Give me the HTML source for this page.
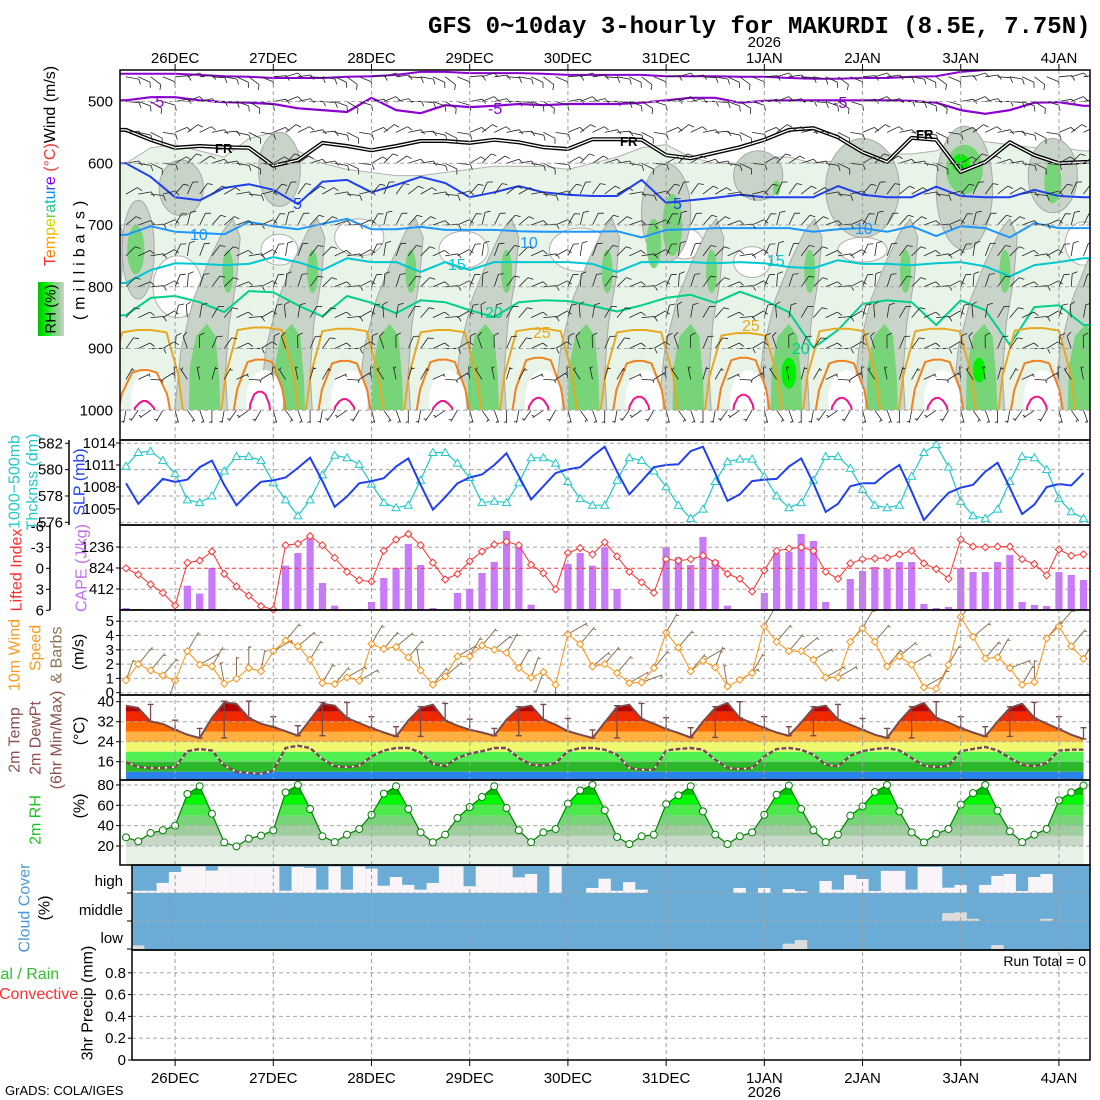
<!DOCTYPE html>
<html><head><meta charset="utf-8">
<style>
body{margin:0;background:#fff;}
svg{display:block;font-family:"Liberation Sans",sans-serif;}
.tk{font-size:15px;fill:#000;}
.lab{font-size:16px;}
</style></head>
<body>
<svg id="c" width="1100" height="1100" viewBox="0 0 1100 1100" xmlns="http://www.w3.org/2000/svg">
<defs>
<clipPath id="clipRH"><rect x="120" y="70" width="970" height="340"/></clipPath>
<clipPath id="clipTop"><rect x="120" y="70" width="970" height="370"/></clipPath>
<clipPath id="clipWind"><rect x="120" y="610" width="970" height="85"/></clipPath>
<linearGradient id="rhKey" x1="0" x2="1" y1="0" y2="0">
<stop offset="0" stop-color="#00c000"/><stop offset="0.3" stop-color="#00f000"/><stop offset="0.55" stop-color="#60e060"/><stop offset="0.8" stop-color="#a0cca0"/><stop offset="1" stop-color="#c8d8c8"/>
</linearGradient>
</defs>
<rect x="0" y="0" width="1100" height="1100" fill="#fff"/>

<text x="428" y="33" style="font-family:'Liberation Mono',monospace;font-size:24px;font-weight:bold">GFS 0~10day 3-hourly for MAKURDI (8.5E, 7.75N)</text>

<g id="marks"></g>
<g id="axes"></g>

<g class="lab" dominant-baseline="central" text-anchor="middle">
<text transform="translate(50,166) rotate(-90)"><tspan fill="#ff3030">T</tspan><tspan fill="#ff7a00">e</tspan><tspan fill="#ffa000">m</tspan><tspan fill="#e8c000">p</tspan><tspan fill="#c8d800">e</tspan><tspan fill="#70d040">r</tspan><tspan fill="#20c880">a</tspan><tspan fill="#00c0c0">t</tspan><tspan fill="#0090ff">u</tspan><tspan fill="#3050ff">r</tspan><tspan fill="#8000ff">e</tspan><tspan fill="#ff3030"> (°C)</tspan><tspan fill="#000">Wind (m/s)</tspan></text>
<text transform="translate(80,258) rotate(-90)" style="letter-spacing:5px" fill="#000">(millibars)</text>
<rect x="38" y="282" width="26" height="54" fill="url(#rhKey)"/>
<text transform="translate(51,309) rotate(-90)" fill="#000" style="font-size:15px">RH (%)</text>
<text transform="translate(15,482) rotate(-90)" fill="#20c8c8">1000−500mb</text>
<text transform="translate(33,482) rotate(-90)" fill="#20c8c8">Thcknss (dm)</text>
<text transform="translate(80,482) rotate(-90)" fill="#2040f0">SLP (mb)</text>
<text transform="translate(17,570) rotate(-90)" fill="#ff3030">Lifted Index</text>
<text transform="translate(82,568) rotate(-90)" fill="#c070f0">CAPE (J/kg)</text>
<text transform="translate(15,655) rotate(-90)" fill="#ff9a20">10m Wind</text>
<text transform="translate(36,648) rotate(-90)" fill="#ff9a20">Speed</text>
<text transform="translate(57,655) rotate(-90)" fill="#8b7355">&amp; Barbs</text>
<text transform="translate(79,652) rotate(-90)" fill="#000">(m/s)</text>
<text transform="translate(15,740) rotate(-90)" fill="#8c5050">2m Temp</text>
<text transform="translate(36,738) rotate(-90)" fill="#8c5050">2m DewPt</text>
<text transform="translate(57,740) rotate(-90)" fill="#8c5050">(6hr Min/Max)</text>
<text transform="translate(80,731) rotate(-90)" fill="#000">(°C)</text>
<text transform="translate(36,820) rotate(-90)" fill="#20c020">2m RH</text>
<text transform="translate(80,806) rotate(-90)" fill="#000">(%)</text>
<text transform="translate(25,908) rotate(-90)" fill="#4a9ad8">Cloud Cover</text>
<text transform="translate(45,908) rotate(-90)" fill="#000">(%)</text>
<text transform="translate(88,1003) rotate(-90)" fill="#000">3hr Precip (mm)</text>
</g>
<text x="-4" y="979" fill="#30c030" class="lab">tal / Rain</text>
<text x="-1" y="999" fill="#ff3030" class="lab">Convective</text>
<text x="123" y="886" text-anchor="end" class="tk">high</text>
<text x="123" y="915" text-anchor="end" class="tk">middle</text>
<text x="123" y="943" text-anchor="end" class="tk">low</text>
<text x="1086" y="966" text-anchor="end" style="font-size:14px">Run Total = 0</text>
<text x="5" y="1095" style="font-size:13px">GrADS: COLA/IGES</text>

<g style="font-size:16px">
<text x="150" y="107" fill="#8a00d0">-5</text>
<text x="488" y="114" fill="#8a00d0">-5</text>
<text x="833" y="108" fill="#8a00d0">-5</text>
<text x="215" y="153" fill="#000" style="font-size:13px;font-weight:bold">FR</text>
<text x="620" y="146" fill="#000" style="font-size:13px;font-weight:bold">FR</text>
<text x="916" y="139" fill="#000" style="font-size:13px;font-weight:bold">FR</text>
<text x="293" y="209" fill="#2040f0">5</text>
<text x="673" y="209" fill="#2040f0">5</text>
<text x="190" y="240" fill="#1e96ff">10</text>
<text x="520" y="248" fill="#1e96ff">10</text>
<text x="855" y="234" fill="#1e96ff">10</text>
<text x="448" y="270" fill="#00c8d0">15</text>
<text x="767" y="266" fill="#00c8d0">15</text>
<text x="485" y="318" fill="#00d08c">20</text>
<text x="792" y="354" fill="#00d08c">20</text>
<text x="533" y="338" fill="#e8a820">25</text>
<text x="742" y="331" fill="#e8a820">25</text>
</g>
</svg>

<script>
const NS='http://www.w3.org/2000/svg';
const svg=document.getElementById('c');
const marks=document.getElementById('marks');
const axes=document.getElementById('axes');

const dayLabels=['26DEC','27DEC','28DEC','29DEC','30DEC','31DEC','1JAN','2JAN','3JAN','4JAN'];
const thick=[580.25,581.3,581.4,580.7,579.7,577.7,577.5,578.0,579.9,581.0,581.0,580.7,579.0,577.7,576.5,577.7,579.6,581.1,580.9,580.4,578.9,577.5,577.1,577.3,579.2,581.3,581.3,580.5,579.4,577.5,577.6,577.5,579.0,580.9,580.9,580.5,579.1,577.8,577.3,577.3,579.2,580.9,580.7,579.9,578.7,577.3,576.3,577.0,579.1,580.6,580.8,580.8,579.5,578.0,577.1,577.5,579.2,581.0,581.0,580.1,578.5,577.3,577.1,577.3,579.5,581.3,581.9,580.2,577.6,576.5,576.3,577.0,579.1,581.0,580.9,580.0,577.8,576.8,576.3];
const slp=[1008.5,1005.7,1007.4,1009.1,1008.7,1009.0,1010.7,1011.6,1008.3,1005.5,1007.2,1008.7,1008.9,1009.3,1010.6,1012.0,1008.8,1005.3,1006.7,1008.5,1008.8,1009.2,1010.8,1011.9,1008.3,1004.9,1006.6,1008.5,1009.3,1009.7,1011.0,1012.6,1009.5,1006.3,1008.1,1009.9,1010.4,1010.7,1012.2,1013.5,1010.1,1007.0,1008.8,1010.7,1011.0,1011.1,1012.9,1013.5,1009.9,1006.1,1007.0,1008.8,1009.0,1009.1,1010.8,1011.9,1008.5,1004.6,1005.7,1008.1,1008.5,1008.5,1009.9,1011.0,1007.4,1003.5,1005.4,1007.2,1007.9,1008.3,1010.1,1011.3,1007.9,1004.3,1005.6,1008.0,1008.4,1008.2,1009.9];
const liftedIndex=[0,0.9,2.3,3.5,5.3,-0.8,-1.1,-2.4,0.8,2.6,3.9,5.4,5.9,-3.3,-3.5,-4.6,-3.3,-1.5,0.5,1.7,1.9,-2.5,-4.1,-4.9,-3.3,-0.8,1.6,0.8,-1.0,-2.4,-3.4,-3.8,-3.3,-0.5,0.7,3.0,-2.2,-2.9,-2.0,-3.7,-1.7,0.5,2.0,3.5,-1.3,-1.1,-1.3,-1.8,-0.8,0.8,1.5,3.3,0.3,-2.5,-2.8,-3.0,-2.5,0.5,1.5,-0.7,-1.3,-1.4,-1.5,-2.0,-2.5,-0.7,0.1,1.5,-4.1,-3.1,-3.0,-3.1,-3.1,-1.3,-0.6,1.0,-2.7,-1.8,-2.0];
const cape=[39,20,0,0,0,477,321,824,20,0,0,0,0,870,1118,1400,530,85,0,20,157,628,824,1295,883,39,0,334,412,726,942,1550,1243,104,0,0,902,1118,870,1230,412,20,0,20,1230,1034,883,1432,981,85,0,0,334,1118,1138,1491,1354,157,0,608,765,844,810,942,942,118,39,59,824,746,746,942,1079,157,98,78,746,687,589];
const wind10Speed=[0.87,2.0,1.56,1.2,0.84,2.9,1.96,1.84,0.63,0.98,1.73,1.5,2.9,3.65,3.25,2.3,0.68,0.6,1.07,0.84,3.4,3.07,3.2,2.47,1.56,0.56,1.14,2.54,2.54,3.3,3.0,2.8,1.73,1.07,1.45,0.56,4.1,3.4,1.84,2.0,1.38,0.68,0.72,1.73,4.2,3.16,1.5,2.23,1.77,0.44,0.9,1.38,4.65,3.56,2.9,2.9,2.3,1.07,1.07,3.56,4.5,3.56,1.84,2.54,1.96,0.37,0.28,1.96,5.3,3.9,2.4,2.47,1.73,0.56,0.75,3.8,4.65,3.25,2.37];
const wind10Dir=[20,40,40,40,200,30,60,30,350,0,0,10,60,40,50,30,30,40,60,60,30,40,50,40,350,40,50,60,30,40,50,30,30,20,200,180,60,40,50,40,40,60,70,40,30,40,40,60,20,350,60,30,30,40,40,50,60,60,60,40,30,40,40,50,60,60,30,30,40,50,40,30,70,30,360,40,40,40,30];
const temp2m=[38.4,37.5,32.1,31.1,28.8,26.8,25.5,33.5,39.7,39.1,33.5,31.2,29.9,28.2,26.4,32.8,39.2,38.4,33.5,31.5,29.5,27.7,26.1,32.5,37.5,38.8,32.5,30.4,28.8,27.7,26.4,32.8,37.5,38.4,32.8,30.8,28.2,26.8,25.5,31.7,37.9,38.8,33.1,31.2,29.1,27.5,25.7,32.1,37.5,39.5,33.5,31.5,29.5,27.7,26.4,31.7,37.5,38.4,32.8,30.8,28.8,26.8,25.5,32.1,37.5,39.5,33.5,31.7,29.5,27.7,26.1,32.1,37.5,39.2,33.5,31.2,29.1,26.8,25.1];
const dew2m=[15.8,13.9,13.5,13.5,13.9,20.2,21.1,20.5,14.4,12.0,11.5,11.2,12.5,21.5,22.4,21.5,17.1,14.2,13.8,14.4,18.1,20.5,21.5,21.5,19.7,15.2,14.2,17.5,19.2,20.2,21.5,21.5,17.5,14.8,14.4,15.5,20.2,21.5,21.5,20.8,18.8,13.5,12.8,12.8,20.5,21.1,21.5,20.8,16.8,13.5,13.1,13.5,18.1,21.1,21.5,20.8,18.8,14.8,14.2,18.4,20.2,21.1,21.5,20.5,17.5,14.4,13.9,14.4,20.2,21.1,21.9,20.5,17.5,14.8,14.2,15.5,20.5,20.8,20.8];
const rh2m=[28.5,24.5,32.7,35.4,39.9,71.1,78.7,51.7,23.5,19.6,27.2,30.2,35.4,72.7,80,56.3,29.5,23.8,31.1,36.7,50.7,71.4,78.7,56.3,33.4,23.5,31.1,47.5,58.3,68.1,78.7,57.3,35.4,23.8,33.4,36.7,61.6,74.7,80,55,28.8,21.9,29.5,31.1,61.2,69.8,78.7,54,31.1,21.9,29.5,33.4,50.7,70.4,79.4,56.3,35.4,23.8,31.1,49.8,58.9,73,80,54,33.4,23.5,32,36.7,60.6,72,80,54.7,34.4,23.8,31.1,36.7,64.9,72.7,79.4];
const precip3h=[0,0,0,0,0,0,0,0,0,0,0,0,0,0,0,0,0,0,0,0,0,0,0,0,0,0,0,0,0,0,0,0,0,0,0,0,0,0,0,0,0,0,0,0,0,0,0,0,0,0,0,0,0,0,0,0,0,0,0,0,0,0,0,0,0,0,0,0,0,0,0,0,0,0,0,0,0,0,0];
const cloudHigh=[92,92,64,25,5,5,20,5,5,5,5,5,92,7,10,88,5,88,5,13,74,43,71,88,64,5,5,76,5,5,5,44,32,100,5,100,100,82,49,92,61,88,100,100,100,100,100,100,100,82,100,82,100,86,93,100,57,88,36,50,93,21,21,88,7,7,81,71,100,71,39,32,93,43,32,100,100,100];
const cloudMid=[100,100,100,100,100,100,100,100,100,100,100,100,100,100,100,100,100,100,100,100,100,100,100,100,100,100,100,100,100,100,100,100,100,100,100,100,100,100,100,100,100,100,100,100,100,100,100,100,100,100,100,100,100,100,100,100,100,100,100,100,100,100,100,100,100,100,72,69,92,100,100,100,100,100,92,100,100,100];
const cloudLow=[87,100,100,100,100,100,100,100,100,100,100,100,100,100,100,100,100,100,100,100,100,100,100,100,100,100,100,100,100,100,100,100,100,100,100,100,100,100,100,100,100,100,100,100,100,100,100,100,100,100,100,100,100,81,68,100,100,100,100,100,100,100,100,100,100,100,100,100,100,100,86,100,100,100,100,100,100,100];
const isoM10=[455,455,455,457,459,460,462,462,462,460,459,457,452,452,454,454,454,455,457,457,457,457,459,459,459,460,460,462,463,463,462,462,460,459,452,449,447,446,446,446];
const isoM5=[498,493,493,498,501,502,504,511,514,517,494,514,519,506,509,507,504,506,504,504,504,502,498,494,494,502,499,498,498,498,498,498,499,502,514,520,514,502,501,507];
const isoFR=[546,562,575,572,574,575,604,595,567,572,579,572,564,564,567,562,566,574,577,561,561,562,587,592,583,574,562,546,543,558,582,598,559,562,614,598,566,587,600,598];
const iso5=[600,622,655,660,640,634,643,666,630,627,647,635,622,632,655,647,637,647,651,653,653,627,664,660,656,651,655,655,655,637,651,655,655,638,653,655,655,643,653,655];
const iso10=[716,702,711,713,715,695,702,707,698,690,707,707,703,708,708,708,710,711,711,711,710,720,708,707,705,705,705,705,711,707,705,711,702,718,702,705,720,697,705,705];
const iso15=[794,773,762,763,765,763,752,760,773,754,760,760,776,760,773,760,760,760,760,763,776,760,760,760,762,760,762,768,770,757,763,763,765,762,760,767,783,765,760,754];
const iso20=[846,818,815,825,841,807,809,830,848,815,826,843,822,825,838,849,825,822,823,831,840,830,818,813,826,808,822,841,899,870,828,822,825,862,822,838,894,833,830,862];
const rhMoistTop=[600,575,570,580,590,560,550,580,600,610,615,620,620,615,610,605,605,605,610,600,590,575,570,590,600,600,590,590,600,595,590,585,585,580,565,565,570,575,575,580];
const humpCentre=[1.5,10.9,17.8,25.8,33.6,41.8,50.3,58.3,66.1,74.2,82.5];
const hump25Top=[870,866,868,870,868,870,875,868,868,867,868];
const hump30Top=[935,918,920,918,915,920,915,920,918,920,918];
const hump35Top=[985,970,982,985,980,978,975,980,980,978,980];
const blobT=[12.5,4.5,44,51.5,60,68.3,75.5,1,44.5,43,53,68.3,75.5,0.8,68.0,54,69.5];
const blobP=[610,640,680,620,640,640,620,740,700,730,640,610,630,740,600,940,935];
const blobW=[1.7,1.8,2,2,3,2.3,2,1.3,0.8,0.6,0.3,1.5,0.7,0.7,0.7,0.6,0.5];
const blobH=[60,45,80,40,80,100,60,80,50,40,12,40,35,40,15,25,20];
const blobL=[1,1,1,1,1,1,1,1,2,2,2,2,2,2,3,3,3];
const holeT=[4.2,12.5,19,27.5,37,45.5,51,60,78];
const holeP=[800,740,720,740,740,730,760,740,730];
const holeW=[2,1.5,2,2,2.5,1.5,1.5,2,1.5];
const holeH=[50,25,30,30,35,25,25,20,35];
const barbLevels=[460,500,550,600,650,700,750,800,850,900,950,1000];
const barbDir=[100,95,85,80,60,50,45,45,40,35,30,190];
const barbSpd=[7,6,5,5,6,6,6,5,5,5,4,3];
const barbAmp=[0.6,0.6,0.7,0.8,0.8,0.8,0.8,0.9,1,1.2,1.4,1.0];
const diurnalShift=[0,25,45,20,-25,-45,-30,-10];

const xi=i=>126+12.2756*i;
const yP=p=>101.5+(p-500)*0.6175;
const yTh=v=>443.3+(582-v)*13.17;
const ySlp=v=>443+(1014-v)*7.33;
const yLI=v=>568.3+v*7;
const yCape=v=>610-v*21/412;
const ySpd=v=>692.7-v*14.3;
const yT=v=>701.7+(40-v)*2.5;
const yRH=v=>866.3-v*1.017;
const yPr=v=>1060-v*109;

function mk(tag,attrs,parent){const e=document.createElementNS(NS,tag);for(const k in attrs)e.setAttribute(k,attrs[k]);(parent||marks).appendChild(e);return e;}
function pts(arr){return arr.map(p=>p[0].toFixed(1)+','+p[1].toFixed(1)).join(' ');}
function dashH(y,x0,x1,col,parent){const l=mk('line',{x1:x0,x2:x1,y1:y,y2:y,stroke:col||'#a8a8a8','stroke-width':1,'stroke-dasharray':'4,3'},parent);

return l;}
function tick(x,y,t,name,anchor){const e=mk('text',{x:x,y:y+5,'text-anchor':anchor||'end',class:'tk'},axes);e.textContent=t;

return e;}
function barb(x,y,dir,spd,len,feat,col,w,parent,name){
  const r=dir*Math.PI/180,ux=Math.sin(r),uy=-Math.cos(r);
  const ex=x+ux*len,ey=y+uy*len,px=-uy,py=ux;
  let d='M'+x.toFixed(1)+','+y.toFixed(1)+'L'+ex.toFixed(1)+','+ey.toFixed(1);
  let full=Math.floor(spd/5),half=(spd%5)>=2.5?1:0;if(full+half===0)half=1;
  let off=0;
  for(let f=0;f<full;f++){const bx=ex-ux*off,by=ey-uy*off;d+='M'+bx.toFixed(1)+','+by.toFixed(1)+'l'+((px+ux*0.5)*feat).toFixed(1)+','+((py+uy*0.5)*feat).toFixed(1);off+=3;}
  if(half){if(full===0)off=2;const bx=ex-ux*off,by=ey-uy*off;d+='M'+bx.toFixed(1)+','+by.toFixed(1)+'l'+((px+ux*0.5)*feat*0.55).toFixed(1)+','+((py+uy*0.5)*feat*0.55).toFixed(1);}
  const e=mk('path',{d:d,fill:'none',stroke:col,'stroke-width':w},parent);
  
  
  return e;
}

const gRH=mk('g',{'clip-path':'url(#clipRH)'});


{
  const top=[[120,yP(rhMoistTop[0])]];
  rhMoistTop.forEach((p,k)=>top.push([xi(2*k),yP(p)]));
  top.push([1090,yP(rhMoistTop[39])],[1090,410],[120,410]);
  const e=mk('polygon',{points:pts(top),fill:'#e8f4e8',stroke:'#b0b0b0','stroke-width':1},gRH);
  
  
}
holeT.forEach((t,j)=>{const e=mk('ellipse',{cx:xi(t),cy:yP(holeP[j]),rx:holeW[j]*12.28,ry:holeH[j]*0.6175,fill:'#fff',stroke:'#b0b0b0','stroke-width':1},gRH);

});
const plumeGray=[[-7.0,1010],[-6.4,900],[-5.4,820],[-4.2,760],[-3.0,710],[-2.2,690],[-1.6,720],[-1.9,790],[-2.5,860],[-2.8,940],[-2.6,1010]];
const plumeGreen=[[-5.8,1010],[-5.7,930],[-5.2,880],[-4.3,860],[-3.6,880],[-3.3,950],[-3.2,1010]];
humpCentre.forEach((c,h)=>{
  const g=mk('polygon',{points:pts(plumeGray.map(q=>[xi(c+q[0]),yP(q[1])])),fill:'#c8d4c8',stroke:'#a8a8a8','stroke-width':1},gRH);
  
  
  const gr=mk('polygon',{points:pts(plumeGreen.map(q=>[xi(c+q[0]),yP(q[1])])),fill:'#78d478'},gRH);
  
  
  const u=mk('ellipse',{cx:xi(c-2.6),cy:yP(775),rx:0.45*12.28,ry:35*0.6175,fill:'#78d478'},gRH);
  
  
});
const blobFill=['','#c8d4c8','#78d478','#00f000'];
blobT.forEach((t,j)=>{const e=mk('ellipse',{cx:xi(t),cy:yP(blobP[j]),rx:blobW[j]*12.28,ry:blobH[j]*0.6175,fill:blobFill[blobL[j]],stroke:blobL[j]===1?'#a8a8a8':'none','stroke-width':1},gRH);

});
humpCentre.forEach((c,h)=>{const e=mk('ellipse',{cx:xi(c+0.4),cy:yP(985),rx:1.5*12.28,ry:50*0.6175,fill:'#fff'},gRH);

});

function isoLine(arr,col,w,name){
  const p=[[120,yP(arr[0])]];arr.forEach((v,k)=>p.push([xi(2*k),yP(v)]));p.push([1090,yP(arr[arr.length-1])]);
  const e=mk('polyline',{points:pts(p),fill:'none',stroke:col,'stroke-width':w,'stroke-linejoin':'round'},gRH);
  
  return p;
}
isoLine(isoM10,'#8a00d0',2,'isotherm-minus10');
isoLine(isoM5,'#8a00d0',2.2,'isotherm-minus5');
const frPts=isoLine(isoFR,'#000',4,'isotherm-freezing');
{const e=mk('polyline',{points:pts(frPts),fill:'none',stroke:'#fff','stroke-width':1.3},gRH);

}
isoLine(iso5,'#2040f0',2,'isotherm-5');
isoLine(iso10,'#1e96ff',2,'isotherm-10');
isoLine(iso15,'#00c8d0',2,'isotherm-15');
isoLine(iso20,'#00d08c',2,'isotherm-20');
function humps(tops,bw,tw,col,name){
  humpCentre.forEach((c,h)=>{
    const t=tops[h];
    const p=[[c-bw,1010],[c-bw+0.3*(bw-tw),t+0.55*(1005-t)],[c-tw,t+4],[c-tw*0.3,t],[c+tw*0.3,t],[c+tw,t+4],[c+bw-0.3*(bw-tw),t+0.55*(1005-t)],[c+bw,1010]].map(q=>[xi(q[0]),yP(q[1])]);
    const e=mk('polyline',{points:pts(p),fill:'none',stroke:col,'stroke-width':2,'stroke-linejoin':'round'},gRH);
    
    
  });
}
humps(hump25Top,3.2,1.8,'#e8a820','isotherm-25');
humps(hump30Top,2.2,1.0,'#f08020','isotherm-30');
humps(hump35Top,0.9,0.45,'#f0148c','isotherm-35');

const gB=mk('g',{'clip-path':'url(#clipTop)'});


barbLevels.forEach((p,L)=>{
  for(let i=0;i<79;i++){
    const dir=barbDir[L]+diurnalShift[i%8]*barbAmp[L];
    barb(xi(i),yP(p),dir,barbSpd[L],13,5,'#222',0.8,gB,'wind-barb');
  }
});

[582,580,578,576].forEach(v=>dashH(yTh(v),120,1090));
{
  const th=mk('polyline',{points:pts(thick.map((v,i)=>[xi(i),yTh(v)])),fill:'none',stroke:'#20c8c8','stroke-width':1.2});
  
  
  thick.forEach((v,i)=>{const x=xi(i),y=yTh(v);const t=mk('polygon',{points:pts([[x,y-4],[x-4,y+3],[x+4,y+3]]),fill:'#fff',stroke:'#20c8c8','stroke-width':1});
  
  });
  const s=mk('polyline',{points:pts(slp.map((v,i)=>[xi(i),ySlp(v)])),fill:'none',stroke:'#2040f0','stroke-width':2});
  
  
}

[-3,3].forEach(v=>dashH(yLI(v),120,1090));
cape.forEach((v,i)=>{if(v<=0)return;const y=yCape(v);const b=mk('rect',{x:xi(i)-3.6,y:y,width:7.2,height:610-y,fill:'#c87af8'});

});
dashH(yLI(0),120,1090,'#ff3030');
{
  const l=mk('polyline',{points:pts(liftedIndex.map((v,i)=>[xi(i),yLI(v)])),fill:'none',stroke:'#ff3030','stroke-width':1});
  
  
  liftedIndex.forEach((v,i)=>{const x=xi(i),y=yLI(v);const d=mk('polygon',{points:pts([[x,y-3.5],[x+3.5,y],[x,y+3.5],[x-3.5,y]]),fill:'#fff',stroke:'#ff3030','stroke-width':1});
  
  });
}

[0,1,2,3,4,5].forEach(v=>dashH(ySpd(v),120,1090));
{
  const gW=mk('g',{'clip-path':'url(#clipWind)'});
  
  
  wind10Dir.forEach((d,i)=>barb(xi(i),ySpd(wind10Speed[i]),d,wind10Speed[i],22,5,'#8b7355',1,gW,'wind10-barb'));
  const l=mk('polyline',{points:pts(wind10Speed.map((v,i)=>[xi(i),ySpd(v)])),fill:'none',stroke:'#ff9010','stroke-width':1});
  
  
  wind10Speed.forEach((v,i)=>{const x=xi(i),y=ySpd(v);const d=mk('polygon',{points:pts([[x,y-3.5],[x+3.5,y],[x,y+3.5],[x-3.5,y]]),fill:'#fff',stroke:'#ff9010','stroke-width':1});
  
  });
}

{
  const poly=[[xi(0),780]].concat(temp2m.map((v,i)=>[xi(i),yT(v)])).concat([[xi(78),780]]);
  const cp=document.createElementNS(NS,'clipPath');cp.setAttribute('id','clipTemp');
  const cpp=document.createElementNS(NS,'polygon');cpp.setAttribute('points',pts(poly));cp.appendChild(cpp);
  svg.querySelector('defs').appendChild(cp);
  const g=mk('g',{'clip-path':'url(#clipTemp)'});
  
  
  const bands=[[0,12,'#2a82ea'],[12,16,'#28b828'],[16,20,'#50f050'],[20,24,'#f0f870'],[24,28,'#ffb040'],[28,32,'#ff6a00'],[32,36,'#f02800'],[36,50,'#b40000']];
  bands.forEach(b=>{const r=mk('rect',{x:120,y:yT(b[1]),width:970,height:yT(b[0])-yT(b[1]),fill:b[2]},g);
  
  });
  [40,32,24,16].forEach(v=>dashH(yT(v),120,1090));
  const l=mk('polyline',{points:pts(temp2m.map((v,i)=>[xi(i),yT(v)])),fill:'none',stroke:'#7a4a4a','stroke-width':2});
  
  
  for(let i=2;i<79;i+=2){
    const w=temp2m.slice(i-2,i+1);const mx=Math.max(...w)+0.5,mn=Math.min(...w);
    const x=xi(i);
    const e=mk('path',{d:`M${x},${yT(mx)}L${x},${yT(mn)}M${x-3},${yT(mx)}h6M${x-3},${yT(mn)}h6`,stroke:'#7a4a4a','stroke-width':1.3,fill:'none'});
    
    
  }
  const dp=dew2m.map((v,i)=>[xi(i),yT(v)]);
  const w1=mk('polyline',{points:pts(dp),fill:'none',stroke:'#fff','stroke-width':1.5});
  
  
  const d1=mk('polyline',{points:pts(dp),fill:'none',stroke:'#7a4a4a','stroke-width':2.4,'stroke-dasharray':'5,2'});
  
  
}

{
  const poly=[[xi(0),866]].concat(rh2m.map((v,i)=>[xi(i),yRH(v)])).concat([[xi(78),866]]);
  const cp=document.createElementNS(NS,'clipPath');cp.setAttribute('id','clipRH2');
  const cpp=document.createElementNS(NS,'polygon');cpp.setAttribute('points',pts(poly));cp.appendChild(cpp);
  svg.querySelector('defs').appendChild(cp);
  const g=mk('g',{'clip-path':'url(#clipRH2)'});
  
  
  const bands=[[0,20,'#e6f2e6'],[20,30,'#c8d8c8'],[30,40,'#a0cca0'],[40,50,'#78d478'],[50,60,'#4ce84c'],[60,70,'#00f800'],[70,80,'#00c000'],[80,100,'#00a000']];
  bands.forEach(b=>{const r=mk('rect',{x:120,y:yRH(b[1]),width:970,height:yRH(b[0])-yRH(b[1]),fill:b[2]},g);
  
  });
  [80,60,40,20].forEach(v=>dashH(yRH(v),120,1090));
  const l=mk('polyline',{points:pts(rh2m.map((v,i)=>[xi(i),yRH(v)])),fill:'none',stroke:'#008000','stroke-width':1.2});
  
  
  rh2m.forEach((v,i)=>{const c=mk('circle',{cx:xi(i),cy:yRH(v),r:3.5,fill:'#fff',stroke:'#008000','stroke-width':1});
  
  });
}

{
  const rows=[[cloudHigh,865,'#f8f4f8','cloud-high-bar'],[cloudMid,893,'#dcdcdc','cloud-mid-bar'],[cloudLow,921,'#dcdcdc','cloud-low-bar']];
  const bg=mk('rect',{x:132,y:865,width:958,height:85,fill:'#6aacd6'});
  
  
  rows.forEach(r=>{
    r[0].forEach((c,k)=>{if(c>=100)return;const h=(100-c)/100*28;const e=mk('rect',{x:132+12.2756*k,y:r[1]+28-h,width:12.35,height:h,fill:r[2]});
    
    });
  });
  dashH(893,132,1090);dashH(921,132,1090);
}

[0.2,0.4,0.6,0.8].forEach(v=>dashH(yPr(v),132,1090));
precip3h.forEach((v,i)=>{if(v<=0)return;const y=yPr(v);const b=mk('rect',{x:xi(i)-4,y:y,width:8,height:1060-y,fill:'#30c030'});

});

dayLabels.forEach((d,k)=>{
  const x=xi(4+8*k);
  const l=mk('line',{x1:x,x2:x,y1:70,y2:1060,stroke:'#a0a0a0','stroke-width':1,'stroke-dasharray':'4,3'},axes);
  
  
  const t1=mk('line',{x1:x,x2:x,y1:64,y2:70,stroke:'#000'},axes);
  
  
  const t2=mk('line',{x1:x,x2:x,y1:1060,y2:1066,stroke:'#000'},axes);
  
  
  const a=mk('text',{x:x,y:63,'text-anchor':'middle',class:'tk'},axes);a.textContent=d;
  
  
  const b=mk('text',{x:x,y:1083,'text-anchor':'middle',class:'tk'},axes);b.textContent=d;
  
  
});
{
  const x=xi(4+8*6);
  const a=mk('text',{x:x,y:47,'text-anchor':'middle',class:'tk'},axes);a.textContent='2026';
  
  
  const b=mk('text',{x:x,y:1097,'text-anchor':'middle',class:'tk'},axes);b.textContent='2026';
  
  
}
[500,600,700,800,900,1000].forEach(p=>{dashH(yP(p),120,1090,null,axes);tick(113,yP(p),String(p),'pressure-tick-label');});
[[70,440,120,'upper-air-frame'],[440,525,120,'thickness-frame'],[525,610,120,'cape-frame'],[610,695,120,'wind10-frame'],[695,780,120,'temp-frame'],[780,865,120,'rh2m-frame'],[865,950,132,'cloud-frame'],[950,1060,132,'precip-frame']].forEach(f=>{
  const r=mk('rect',{x:f[2],y:f[0],width:1090-f[2],height:f[1]-f[0],fill:'none',stroke:'#000','stroke-width':1.5},axes);
  
  
});
function vline(x,y0,y1,name){const l=mk('line',{x1:x,x2:x,y1:y0,y2:y1,stroke:'#000','stroke-width':1.5},axes);

}
function htick(x0,x1,y,name){const l=mk('line',{x1:x0,x2:x1,y1:y,y2:y,stroke:'#000','stroke-width':1},axes);

}
vline(69,440,525,'thickness-axis');
[582,580,578,576].forEach(v=>{htick(65,69,yTh(v),'thickness-tick');tick(63,yTh(v),String(v),'thickness-tick-label');});
[1014,1011,1008,1005].forEach(v=>{htick(116,120,ySlp(v),'slp-tick');tick(116,ySlp(v),String(v),'slp-tick-label');});
vline(50,525,610,'lifted-index-axis');
[-6,-3,0,3,6].forEach(v=>{htick(46,50,yLI(v),'li-tick');tick(44,yLI(v),String(v),'li-tick-label');});
[1236,824,412].forEach(v=>{htick(116,120,yCape(v),'cape-tick');tick(114,yCape(v),String(v),'cape-tick-label');});
[0,1,2,3,4,5].forEach(v=>{htick(116,120,ySpd(v),'wind10-tick');tick(114,ySpd(v),String(v),'wind10-tick-label');});
[40,32,24,16].forEach(v=>{htick(116,120,yT(v),'temp-tick');tick(114,yT(v),String(v),'temp-tick-label');});
[80,60,40,20].forEach(v=>{htick(116,120,yRH(v),'rh2m-tick');tick(114,yRH(v),String(v),'rh2m-tick-label');});
[893,921,949].forEach(y=>htick(127,132,y,'cloud-tick'));
[0,0.2,0.4,0.6,0.8].forEach(v=>{htick(128,132,yPr(v),'precip-tick');tick(126,yPr(v),v===0?'0':String(v),'precip-tick-label');});
</script>
</body></html>
